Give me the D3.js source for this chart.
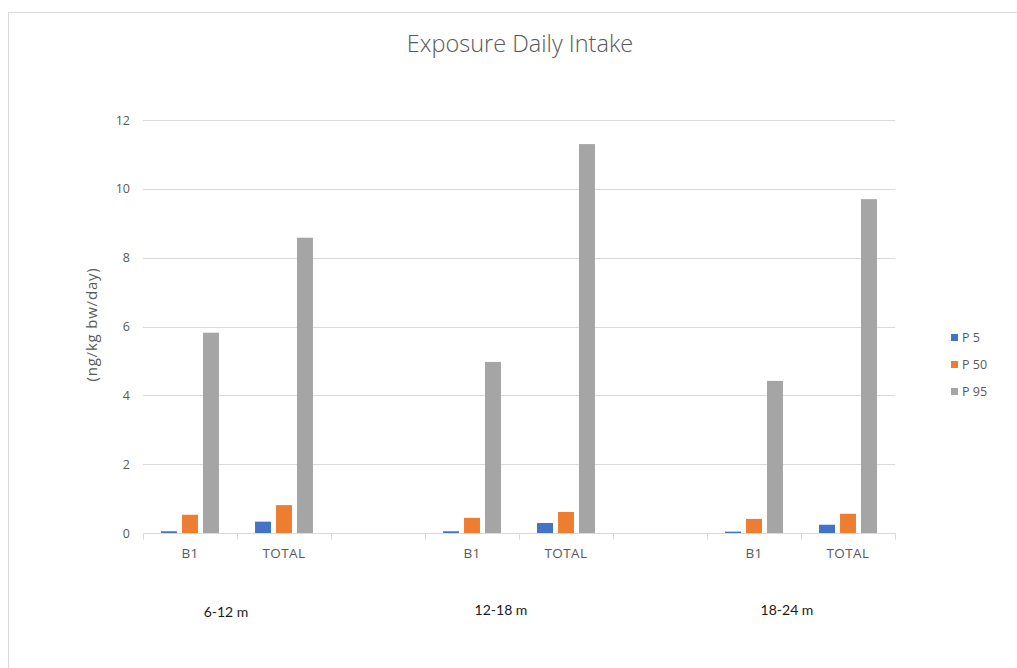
<!DOCTYPE html>
<html>
<head>
<meta charset="utf-8">
<script src="https://cdn.jsdelivr.net/npm/d3@7"></script>
<style>
  html, body { margin: 0; padding: 0; background: #fff; }
  svg { display: block; }
  text { font-family: "Open Sans", Lato, sans-serif; }
</style>
</head>
<body>
<svg id="chart" width="1017" height="668"></svg>
<script>
// Category slots along the x axis (empty slots separate the age groups)
const slots = ["s0", "s1", "s2", "s3", "s4", "s5", "s6", "s7"];
const slotLabels = ["B1", "TOTAL", "", "B1", "TOTAL", "", "B1", "TOTAL"];
const groupLabels = ["6-12 m", "12-18 m", "18-24 m"];
const groupSlots = [["s0", "s1"], ["s3", "s4"], ["s6", "s7"]];

const seriesNames = ["P 5", "P 50", "P 95"];
const seriesColors = ["#4472C4", "#ED7D31", "#A5A5A5"];

// Values per slot (null for the spacer slots)
const p5  = [0.05, 0.33, null, 0.05, 0.29, null, 0.04, 0.24];
const p50 = [0.53, 0.81, null, 0.44, 0.61, null, 0.41, 0.56];
const p95 = [5.82, 8.58, null, 4.97, 11.3, null, 4.42, 9.70];

const yTicks = [0, 2, 4, 6, 8, 10, 12];

const svg = d3.select("#chart");
const W = 1017, H = 668;

// Chart frame
svg.append("rect")
  .attr("x", 8.5).attr("y", 12.5)
  .attr("width", W).attr("height", H)
  .attr("fill", "#fff")
  .attr("stroke", "#d9d9d9").attr("stroke-width", 1);

const margin = { left: 143, right: 1017 - 895, top: 120, bottom: 668 - 533 };

const x0 = d3.scaleBand().domain(slots).range([margin.left, 895]).padding(0);
const x1 = d3.scaleBand().domain(seriesNames)
  .range([0, x0.bandwidth()])
  .paddingInner(0.24).paddingOuter(0.86);
const y = d3.scaleLinear().domain([0, 12]).range([533, 120]);

// Gridlines
svg.append("g")
  .selectAll("line")
  .data(yTicks.filter(t => t > 0))
  .join("line")
  .attr("x1", margin.left).attr("x2", 895)
  .attr("y1", d => Math.round(y(d)) + 0.5).attr("y2", d => Math.round(y(d)) + 0.5)
  .attr("stroke", "#d9d9d9").attr("stroke-width", 1);

// Y axis labels
const yAxis = d3.axisLeft(y).tickValues(yTicks).tickSize(0).tickPadding(13);
const gy = svg.append("g").attr("transform", `translate(${margin.left},0)`).call(yAxis);
gy.select(".domain").remove();
gy.selectAll("text")
  .attr("fill", "#595959")
  .style("font-size", "12.5px")
  .style("font-family", "'Open Sans', Lato, sans-serif");

// Bars
const seriesValues = [p5, p50, p95];
const barData = [];
slots.forEach((s, i) => {
  seriesNames.forEach((name, k) => {
    const v = seriesValues[k][i];
    if (v !== null) barData.push({ slot: s, series: name, color: seriesColors[k], value: v });
  });
});

svg.append("g")
  .selectAll("rect")
  .data(barData)
  .join("rect")
  .attr("x", d => x0(d.slot) + x1(d.series))
  .attr("width", x1.bandwidth())
  .attr("y", d => y(d.value))
  .attr("height", d => y(0) - y(d.value))
  .attr("fill", d => d.color);

// X axis line with slot-boundary ticks
const base = Math.round(y(0)) + 0.5;
svg.append("line")
  .attr("x1", margin.left).attr("x2", 895)
  .attr("y1", base).attr("y2", base)
  .attr("stroke", "#d9d9d9");
const bounds = slots.map(s => x0(s)).concat([x0(slots[slots.length - 1]) + x0.bandwidth()]);
svg.append("g")
  .selectAll("line")
  .data(bounds)
  .join("line")
  .attr("x1", d => Math.round(d) + 0.5).attr("x2", d => Math.round(d) + 0.5)
  .attr("y1", base).attr("y2", base + 6)
  .attr("stroke", "#d9d9d9");

// Slot labels
svg.append("g")
  .selectAll("text")
  .data(slots)
  .join("text")
  .attr("x", d => x0(d) + x0.bandwidth() / 2)
  .attr("y", 558)
  .attr("text-anchor", "middle")
  .attr("fill", "#595959")
  .style("font-size", "13.5px")
  .style("letter-spacing", "0.4px")
  .text((d, i) => slotLabels[i]);

// Age group labels
const groupOffsets = [-11, -18, -14];
const groupY = [617, 615, 615];
svg.append("g")
  .selectAll("text")
  .data(groupLabels)
  .join("text")
  .attr("x", (d, i) => (x0(groupSlots[i][0]) + x0(groupSlots[i][1]) + x0.bandwidth()) / 2 + groupOffsets[i])
  .attr("y", (d, i) => groupY[i])
  .attr("text-anchor", "middle")
  .attr("fill", "#1a1a1a")
  .style("font-family", "Lato, sans-serif")
  .style("font-size", "14px")
  .text(d => d);

// Y axis title
svg.append("text")
  .attr("transform", `translate(97,${(y(4) + y(8)) / 2 - 2}) rotate(-90)`)
  .attr("text-anchor", "middle")
  .attr("fill", "#595959")
  .style("font-size", "15px")
  .style("letter-spacing", "0.8px")
  .text("(ng/kg bw/day)");

// Title
svg.append("text")
  .attr("x", 520).attr("y", 52)
  .attr("text-anchor", "middle")
  .attr("fill", "#595959")
  .style("font-size", "23.5px")
  .style("font-weight", "300")
  .text("Exposure Daily Intake");

// Legend
const legend = svg.append("g")
  .selectAll("g")
  .data(seriesNames)
  .join("g")
  .attr("transform", (d, i) => `translate(951,${334 + i * 27})`);
legend.append("rect")
  .attr("width", 7).attr("height", 7)
  .attr("fill", (d, i) => seriesColors[i]);
legend.append("text")
  .attr("x", 11).attr("y", 8)
  .attr("fill", "#595959")
  .style("font-size", "12.5px")
  .text(d => d);
</script>
</body>
</html>
